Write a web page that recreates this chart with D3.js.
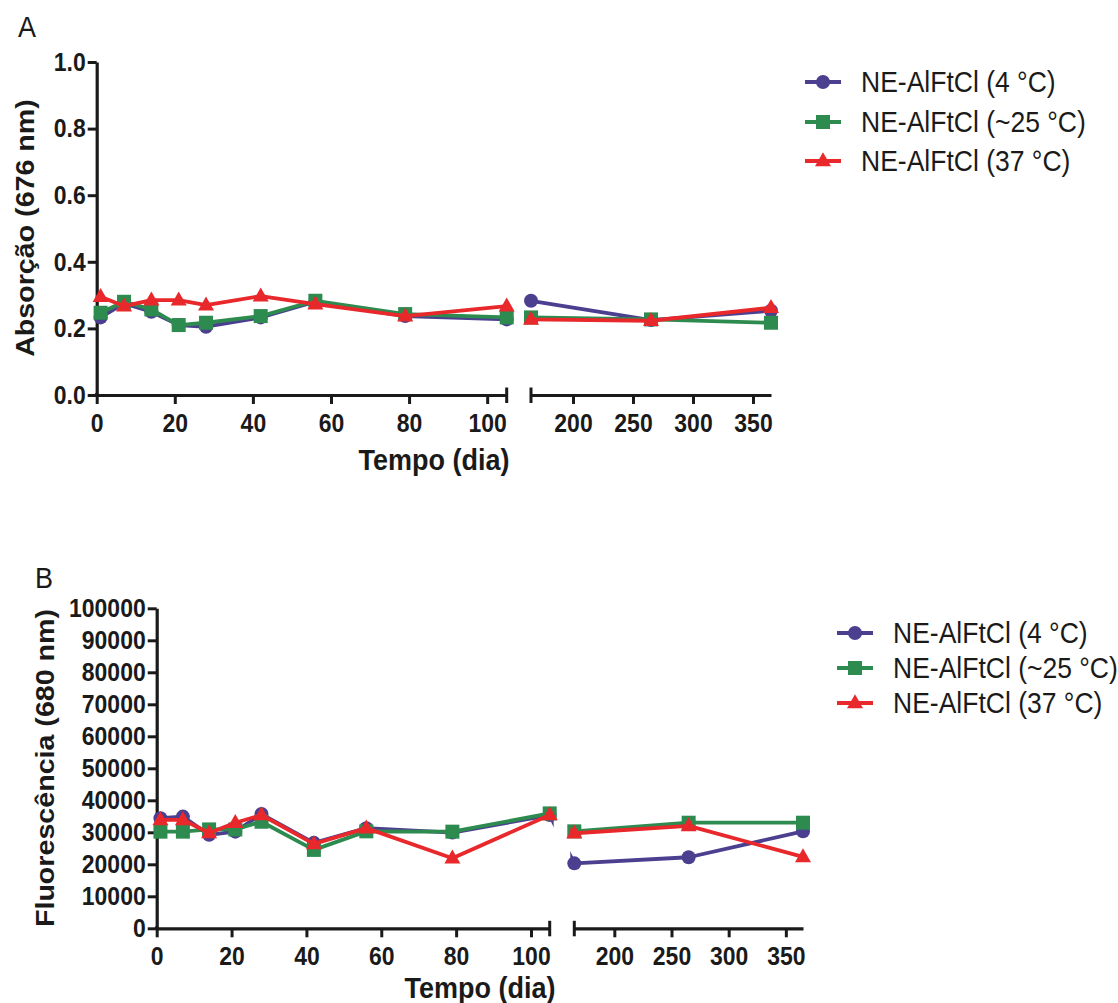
<!DOCTYPE html>
<html>
<head>
<meta charset="utf-8">
<script src="https://cdn.jsdelivr.net/npm/d3@7"></script>
<style>
  html, body { margin: 0; padding: 0; background: #ffffff; }
  svg { display: block; }
  text { font-family: "Liberation Sans", Arial, Helvetica, sans-serif; fill: #1a1a1a; }
</style>
</head>
<body>
<div id="chart"></div>
<script>
// ---- data ----
const days = [1, 7, 14, 21, 28, 42, 56, 79, 105, 165, 265, 365];
const seriesNames = ["NE-AlFtCl (4 °C)", "NE-AlFtCl (~25 °C)", "NE-AlFtCl (37 °C)"];
const seriesColors = ["#4b3f8f", "#2e8b50", "#e8282b"];
const seriesSymbols = ["circle", "square", "triangle"];

const absorb4  = [0.233, 0.275, 0.250, 0.210, 0.205, 0.233, 0.280, 0.237, 0.227, 0.283, 0.225, 0.253];
const absorb25 = [0.247, 0.280, 0.257, 0.210, 0.217, 0.237, 0.283, 0.243, 0.233, 0.233, 0.227, 0.217];
const absorb37 = [0.295, 0.267, 0.285, 0.285, 0.270, 0.297, 0.273, 0.237, 0.267, 0.227, 0.223, 0.262];

const fluor4  = [34400, 34900, 29200, 30200, 35700, 26700, 31300, 29900, 35400, 20300, 22200, 30300];
const fluor25 = [30200, 30200, 30900, 30900, 33300, 24500, 30300, 30200, 35900, 30300, 33000, 33000];
const fluor37 = [33900, 33900, 29800, 33000, 35400, 26400, 31300, 21900, 35400, 29700, 32000, 22300];

const xTicksLeft = [0, 20, 40, 60, 80, 100];
const xTicksRight = [200, 250, 300, 350];
const yTicksA = [0, 0.2, 0.4, 0.6, 0.8, 1.0];
const yTicksB = [0, 10000, 20000, 30000, 40000, 50000, 60000, 70000, 80000, 90000, 100000];
const xDomainLeft = [0, 105];
const xDomainRight = [165, 365];

// ---- layout ----
const W = 1118, H = 1003;
const svg = d3.select("#chart").append("svg").attr("width", W).attr("height", H);
const TICK_K = 1.12;   // vertical stretch of the reference's lettering
const TEXT_K = 1.08;

const panels = [
  {
    letter: "A", letterX: 18, letterY: 37,
    yDomain: [0, 1], yRange: [395, 62], yTicks: yTicksA, yFmt: d3.format(".1f"),
    xL: [96.7, 506.7], xR: [531, 771],
    yTitle: "Absorção (676 nm)", yTitleX: 24, yTitleY: 228,
    xTitleX: 434, xTitleY: 470,
    legX: 805, legY: [82, 122, 161],
    series: [absorb4, absorb25, absorb37]
  },
  {
    letter: "B", letterX: 35, letterY: 588,
    yDomain: [0, 100000], yRange: [928.3, 608.3], yTicks: yTicksB, yFmt: d3.format("d"),
    xL: [156.7, 549.7], xR: [574.3, 803],
    yTitle: "Fluorescência (680 nm)", yTitleX: 44, yTitleY: 768,
    xTitleX: 480, xTitleY: 997.5,
    legX: 837, legY: [633, 668, 703],
    series: [fluor4, fluor25, fluor37]
  }
];

function marker(g, sym, cx, cy, color) {
  if (sym === "circle") {
    g.append("circle").attr("cx", cx).attr("cy", cy).attr("r", 7).attr("fill", color);
  } else if (sym === "square") {
    g.append("rect").attr("x", cx - 7).attr("y", cy - 7).attr("width", 14).attr("height", 14).attr("fill", color);
  } else {
    const s = 16, h = 14;
    g.append("path")
      .attr("d", `M${cx},${cy - h * 0.62}L${cx + s / 2},${cy + h * 0.38}L${cx - s / 2},${cy + h * 0.38}Z`)
      .attr("fill", color);
  }
}

function tallText(g, x, y, k) {
  return g.append("text").attr("transform", `translate(${x},${y}) scale(1,${k})`);
}

panels.forEach((p, pi) => {
  const g = svg.append("g");
  const y = d3.scaleLinear().domain(p.yDomain).range(p.yRange);
  const xLeft = d3.scaleLinear().domain(xDomainLeft).range(p.xL);
  const xRight = d3.scaleLinear().domain(xDomainRight).range(p.xR);
  const x = d => d <= xDomainLeft[1] ? xLeft(d) : xRight(d);
  const y0 = p.yRange[0];

  // panel letter
  tallText(g, p.letterX, p.letterY, TEXT_K).attr("font-size", 27).text(p.letter);

  // y axis
  const ya = g.append("g").attr("transform", `translate(${p.xL[0]},0)`)
    .call(d3.axisLeft(y).tickValues(p.yTicks).tickFormat(p.yFmt).tickSize(9).tickPadding(2).tickSizeOuter(0));
  // x axis left
  const xa1 = g.append("g").attr("transform", `translate(0,${y0})`)
    .call(d3.axisBottom(xLeft).tickValues(xTicksLeft).tickSize(9).tickPadding(9.4).tickSizeOuter(0));
  // x axis right
  const xa2 = g.append("g").attr("transform", `translate(0,${y0})`)
    .call(d3.axisBottom(xRight).tickValues(xTicksRight).tickSize(9).tickPadding(9.4).tickSizeOuter(0));

  [ya, xa1, xa2].forEach(a => {
    a.selectAll("path.domain").attr("stroke", "#1a1a1a").attr("stroke-width", 3.2);
    a.selectAll(".tick line").attr("stroke", "#1a1a1a").attr("stroke-width", 3);
    a.selectAll(".tick text").attr("font-size", 23).attr("font-weight", "bold")
      .attr("fill", "#1a1a1a")
      .style("font-family", "\"Liberation Sans\", Arial, sans-serif");
  });
  ya.selectAll(".tick text").attr("transform", `scale(1,${TICK_K})`);
  [xa1, xa2].forEach(a => {
    a.selectAll(".tick text").each(function () {
      const t = d3.select(this);
      const ty = +t.attr("y");
      t.attr("y", 0).attr("transform", `translate(0,${ty}) scale(1,${TICK_K})`);
    });
  });

  // join y-axis to the x axis cleanly
  g.append("line").attr("x1", p.xL[0]).attr("x2", p.xL[0]).attr("y1", y0 - 2).attr("y2", y0 + 1.6)
    .attr("stroke", "#1a1a1a").attr("stroke-width", 3.2);
  // break end bars
  [p.xL[1], p.xR[0]].forEach(bx => {
    g.append("line").attr("x1", bx).attr("x2", bx).attr("y1", y0 - 7.5).attr("y2", y0 + 8)
      .attr("stroke", "#1a1a1a").attr("stroke-width", 3);
  });

  // axis titles
  g.append("text")
    .attr("transform", `translate(${p.yTitleX},${p.yTitleY}) rotate(-90) scale(${TEXT_K},1)`)
    .attr("text-anchor", "middle").attr("dy", "0.36em")
    .attr("font-size", 26.5).attr("font-weight", "bold").text(p.yTitle);
  tallText(g, p.xTitleX, p.xTitleY, TEXT_K)
    .attr("text-anchor", "middle").attr("font-size", 27).attr("font-weight", "bold")
    .text("Tempo (dia)");

  // clip paths for the broken axis
  const defs = svg.append("defs");
  const cidL = `clipL${pi}`, cidR = `clipR${pi}`;
  defs.append("clipPath").attr("id", cidL).append("rect")
    .attr("x", 0).attr("y", 0).attr("width", p.xL[1] + 4).attr("height", H);
  defs.append("clipPath").attr("id", cidR).append("rect")
    .attr("x", p.xR[0] - 4).attr("y", 0).attr("width", W - p.xR[0] + 4).attr("height", H);

  const line = d3.line().x((d, i) => x(days[i])).y(d => y(d));

  p.series.forEach((vals, si) => {
    const col = seriesColors[si];
    const sg = g.append("g");
    [cidL, cidR].forEach(cid => {
      sg.append("path").attr("d", line(vals))
        .attr("fill", "none").attr("stroke", col).attr("stroke-width", 3.8)
        .attr("stroke-linejoin", "round")
        .attr("clip-path", `url(#${cid})`);
    });
    vals.forEach((v, i) => marker(sg, seriesSymbols[si], x(days[i]), y(v), col));
  });

  // legend
  seriesNames.forEach((name, si) => {
    const ly = p.legY[si];
    const lg = g.append("g");
    lg.append("line").attr("x1", p.legX).attr("x2", p.legX + 36).attr("y1", ly).attr("y2", ly)
      .attr("stroke", seriesColors[si]).attr("stroke-width", 3.8);
    marker(lg, seriesSymbols[si], p.legX + 18, ly, seriesColors[si]);
    tallText(lg, p.legX + 56, ly, TEXT_K).attr("dy", "0.36em")
      .attr("font-size", 26.5).text(name);
  });
});
</script>
</body>
</html>
